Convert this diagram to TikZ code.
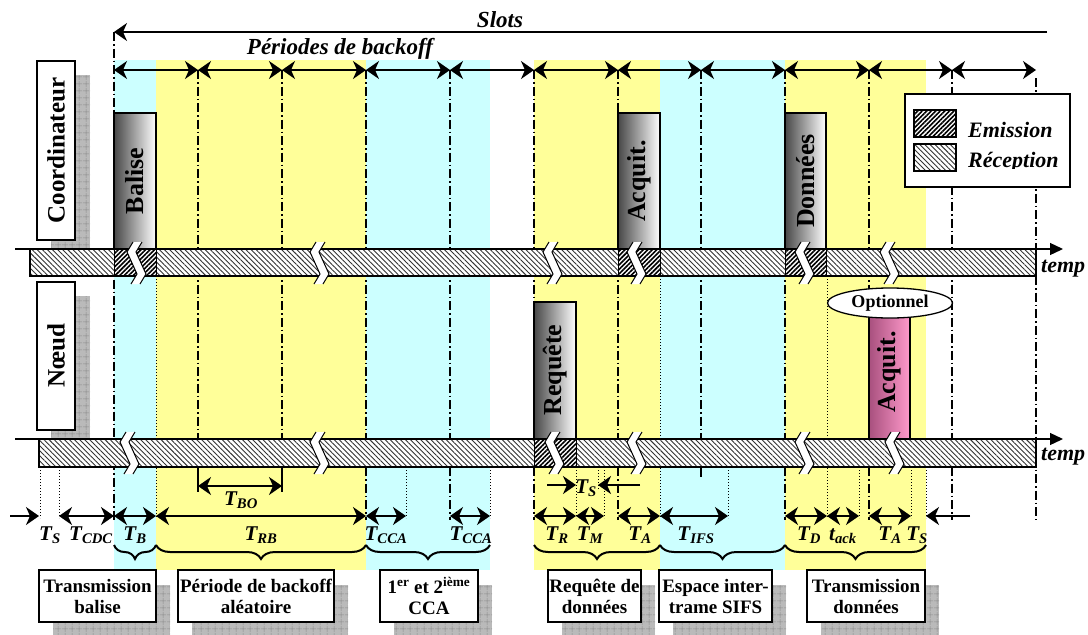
\documentclass[tikz,border=0pt]{standalone}
\usepackage{fontspec}
\setmainfont{Liberation Serif}
\usetikzlibrary{arrows.meta,patterns.meta,decorations.pathreplacing,shapes.geometric}
\definecolor{cy}{HTML}{CCFFFF}
\definecolor{ye}{HTML}{FFFF99}
\definecolor{pinkL}{HTML}{FF9ACB}
\definecolor{pinkD}{HTML}{A8507E}
\newcommand\Tl[1]{\textbf{\textit{T}}\textsubscript{\textbf{\textit{#1}}}}
\newcommand\brkk[2]{%
  \fill[white] (#1+5,#2-7) -- (#1-1,#2+3) -- (#1+9,#2+25) -- (#1+3,#2+35) -- (#1+12,#2+35) -- (#1+18,#2+25) -- (#1+8,#2+3) -- (#1+14,#2-7) -- cycle;
  \draw[line width=1pt] (#1+5,#2-7) -- (#1-1,#2+3) -- (#1+9,#2+25) -- (#1+3,#2+35);
  \draw[line width=1pt] (#1+14,#2-7) -- (#1+8,#2+3) -- (#1+18,#2+25) -- (#1+12,#2+35);}
\tikzset{
  dd/.style={line width=1.2pt, dash pattern=on 9pt off 3pt on 1.5pt off 3pt},
  dotl/.style={line width=0.9pt, dash pattern=on 1pt off 2pt},
  recep/.style={pattern={Lines[angle=-45,distance=3.6pt,line width=0.9pt]}, pattern color=black!80},
  emis/.style={pattern={Lines[angle=45,distance=3.2pt,line width=1.6pt]}, pattern color=black},
  shgrid/.style={preaction={fill=black!27}, pattern={Hatch[angle=0,distance=6.5pt,line width=0.5pt]}, pattern color=black!45},
  tip/.style={line width=1.5pt, -{Stealth[length=13pt,width=18pt,inset=4pt]}},
  dtip/.style={line width=1.5pt, {Stealth[length=13pt,width=18pt,inset=4pt]}-{Stealth[length=13pt,width=18pt,inset=4pt]}},
  brc/.style={decorate, decoration={brace, mirror, amplitude=14pt}, line width=2pt},
  lbox/.style={draw, line width=1.8pt, fill=white, align=center, inner sep=0pt, font=\bfseries\fontsize{19}{21}\selectfont},
  sbox/.style={draw, line width=1.5pt, fill=white, rotate=90, inner sep=0pt, font=\bfseries\fontsize{25}{27}\selectfont},
  rlab/.style={rotate=90, inner sep=0pt, font=\bfseries\fontsize{26}{28}\selectfont},
  tl/.style={anchor=base, inner sep=0pt, font=\bfseries\itshape\fontsize{21}{23}\selectfont},
  bi/.style={inner sep=0pt, font=\bfseries\itshape\fontsize{23}{25}\selectfont},
  gbox/.style={line width=1.2pt, left color=black!72, right color=white},
  pbox/.style={line width=1.2pt, left color=pinkD, right color=pinkL},
}
\begin{document}
\begin{tikzpicture}[x=1pt,y=-1pt]
\useasboundingbox (0,0) rectangle (1088,635);
% bands
\fill[cy] (114,60) rectangle (156,570);
\fill[ye] (156,60) rectangle (366,570);
\fill[cy] (366,60) rectangle (490,570);
\fill[ye] (534,60) rectangle (660,570);
\fill[cy] (660,60) rectangle (785,570);
\fill[ye] (785,60) rectangle (926,570);
% dash-dot lines
\draw[dd] (114,32) -- (114,520);
\foreach \x in {198,282,366,450,534,618,701,785,869,952} \draw[dd] (\x,70) -- (\x,439);
\draw[dd] (1036,78) -- (1036,520);
\foreach \x in {366,450,534,618,785,869,952} \draw[dd] (\x,467) -- (\x,520);
\foreach \x in {198,282} \draw[line width=1.2pt] (\x,467) -- (\x,492);
\draw[line width=1.2pt] (701,467) -- (701,477);
% dotted
\foreach \x in {156,660,827} \draw[dotl] (\x,276) -- (\x,518);
\foreach \x in {40,59,406,490,576,604,728,859,911,926} \draw[dotl] (\x,467) -- (\x,518);
\draw[dotl] (598,467) -- (598,490);
% side labels
\path[shgrid] (51,75) rectangle (90,250);
\path[shgrid] (51,296) rectangle (90,440);
\node[sbox, minimum width=179pt, minimum height=38pt] (coord) at (56,150.5) {Coordinateur};
\node[sbox, minimum width=148pt, minimum height=38pt] (noeud) at (56,356) {Nœud};
% emission boxes
\draw[gbox] (114,113) rectangle (156,249);
\node[rlab] (bal) at (135,181) {Balise};
\draw[gbox] (618,113) rectangle (660,249);
\node[rlab] (acq1) at (639,181) {Acquit.};
\draw[gbox] (785,113) rectangle (826,249);
\node[rlab] (don) at (805.5,181) {Données};
\draw[gbox] (534,302) rectangle (576,439);
\node[rlab] (req) at (555,370) {Requête};
\draw[pbox] (869,317) rectangle (910,439);
\node[rlab] (acq2) at (889.5,372) {Acquit.};
\node[draw, ellipse, line width=1.3pt, fill=white, minimum width=125pt, minimum height=30pt, inner sep=0pt, font=\bfseries\fontsize{18}{20}\selectfont] (opt) at (890,303) {Optionnel};
% coordinator bar
\path[fill=white] (30,249) rectangle (1036,276);
\path[recep] (30,249) rectangle (1036,276);
\foreach \a/\b in {114/156,618/660,785/826} {
  \path[fill=white] (\a,249) rectangle (\b,276);
  \path[emis] (\a,249) rectangle (\b,276);
  \draw[line width=1pt] (\a,249) rectangle (\b,276);}
\draw[line width=1.3pt] (30,249) rectangle (1036,276);
\coordinate (ca0) at (15,249); \coordinate (ca1) at (1063,249);
\draw[line width=1.3pt, -{Triangle[length=13pt,width=12pt]}] (ca0) -- (ca1);
% node bar
\path[fill=white] (39,439) rectangle (1036,467);
\path[recep] (39,439) rectangle (1036,467);
\path[fill=white] (534,439) rectangle (576,467);
\path[emis] (534,439) rectangle (576,467);
\draw[line width=1pt] (534,439) rectangle (576,467);
\draw[line width=1.3pt] (39,439) rectangle (1036,467);
\coordinate (na0) at (15,439); \coordinate (na1) at (1063,439);
\draw[line width=1.3pt, -{Triangle[length=13pt,width=12pt]}] (na0) -- (na1);
\node[anchor=base west, inner sep=0pt, font=\bfseries\itshape\fontsize{22}{24}\selectfont] (tmp1) at (1041,272) {temp};
\node[anchor=base west, inner sep=0pt, font=\bfseries\itshape\fontsize{22}{24}\selectfont] (tmp2) at (1041,460) {temp};
% breaks
\foreach \x in {128,311,544,628,796,881} \brkk{\x}{249};
\foreach \x in {121,311,546,628,796,886} \brkk{\x}{439};
% legend
\draw[line width=1.3pt, fill=white] (905,94) rectangle (1070,187);
\path[fill=white] (914,110) rectangle (956,137);
\path[emis] (914,110) rectangle (956,137);
\draw[line width=1.3pt] (914,110) rectangle (956,137);
\path[fill=white] (914,144) rectangle (956,171);
\path[recep] (914,144) rectangle (956,171);
\draw[line width=1.3pt] (914,144) rectangle (956,171);
\node[anchor=base west, inner sep=0pt, font=\bfseries\itshape\fontsize{22}{24}\selectfont] (lem) at (968,137) {Emission};
\begin{scope}
\clip (960,140) rectangle (1068,168);
\node[anchor=base west, inner sep=0pt, font=\bfseries\itshape\fontsize{22}{24}\selectfont] (lre) at (968,167) {Réception};
\end{scope}
% top arrows
\node[bi, anchor=base] (slots) at (500,27) {Slots};
\node[bi, anchor=base] (pbo) at (340,54) {Périodes de backoff};
\coordinate (s0) at (114,32); \coordinate (s1) at (1047,32);
\draw[tip] (s1) -- (s0);
\foreach \a/\b in {114/198,198/282,282/366,366/450,450/534,534/618,618/701,701/785,785/869,869/952,952/1036}
  \draw[dtip] (\a,70) -- (\b,70);
% bottom arrows
\draw[tip] (10,516) -- (39,516);
\foreach \a/\b in {59/114,114/156,156/366,366/406,450/490,534/576,576/604,618/660,660/728,785/827,827/859,869/911}
  \draw[dtip] (\a,516) -- (\b,516);
\draw[tip] (970,516) -- (926,516);
\draw[dtip] (198,486) -- (282,486);
\draw[tip] (547,485) -- (576,485);
\draw[tip] (640,485) -- (598,485);
% labels
\node[tl] (l1) at (50,540) {\Tl{S}};
\node[tl] (l2) at (91,540) {\Tl{CDC}};
\node[tl] (l3) at (135,540) {\Tl{B}};
\node[tl] (l4) at (261,540) {\Tl{RB}};
\node[tl] (l5) at (386,540) {\Tl{CCA}};
\node[tl] (l6) at (471,540) {\Tl{CCA}};
\node[tl] (l7) at (557,540) {\Tl{R}};
\node[tl] (l8) at (590,540) {\Tl{M}};
\node[tl] (l9) at (640,540) {\Tl{A}};
\node[tl] (l10) at (696,540) {\Tl{IFS}};
\node[tl] (l11) at (809,540) {\Tl{D}};
\node[tl] (l12) at (843,540) {\textbf{\textit{t}}\textsubscript{\textbf{\textit{ack}}}};
\node[tl] (l13) at (890,540) {\Tl{A}};
\node[tl] (l14) at (917,540) {\Tl{S}};
\node[tl] (l15) at (241,505) {\Tl{BO}};
\node[tl] (l16) at (586,493) {\Tl{S}};
% braces
\foreach \a/\b in {114/156,156/366,366/490,534/660,660/785,785/926}
  \draw[brc] (\a,545) -- (\b,545);
% bottom boxes
\foreach \a/\b in {39/156,178/334,380/478,548/641,659/772,807/925}
  \path[shgrid] (\a+14,585) rectangle (\b+14,635);
\node[lbox, minimum width=117pt, minimum height=52pt] (b1) at (97.5,596) {Transmission\\balise};
\node[lbox, minimum width=156pt, minimum height=52pt] (b2) at (256,596) {Période de backoff\\aléatoire};
\node[lbox, minimum width=98pt, minimum height=52pt] (b3) at (429,596) {1\textsuperscript{er} et 2\textsuperscript{ième}\\CCA};
\node[lbox, minimum width=93pt, minimum height=52pt] (b4) at (594.5,596) {Requête de\\données};
\node[lbox, minimum width=113pt, minimum height=52pt] (b5) at (715.5,596) {Espace inter-\\trame SIFS};
\node[lbox, minimum width=118pt, minimum height=52pt] (b6) at (866,596) {Transmission\\données};
\end{tikzpicture}
\end{document}
